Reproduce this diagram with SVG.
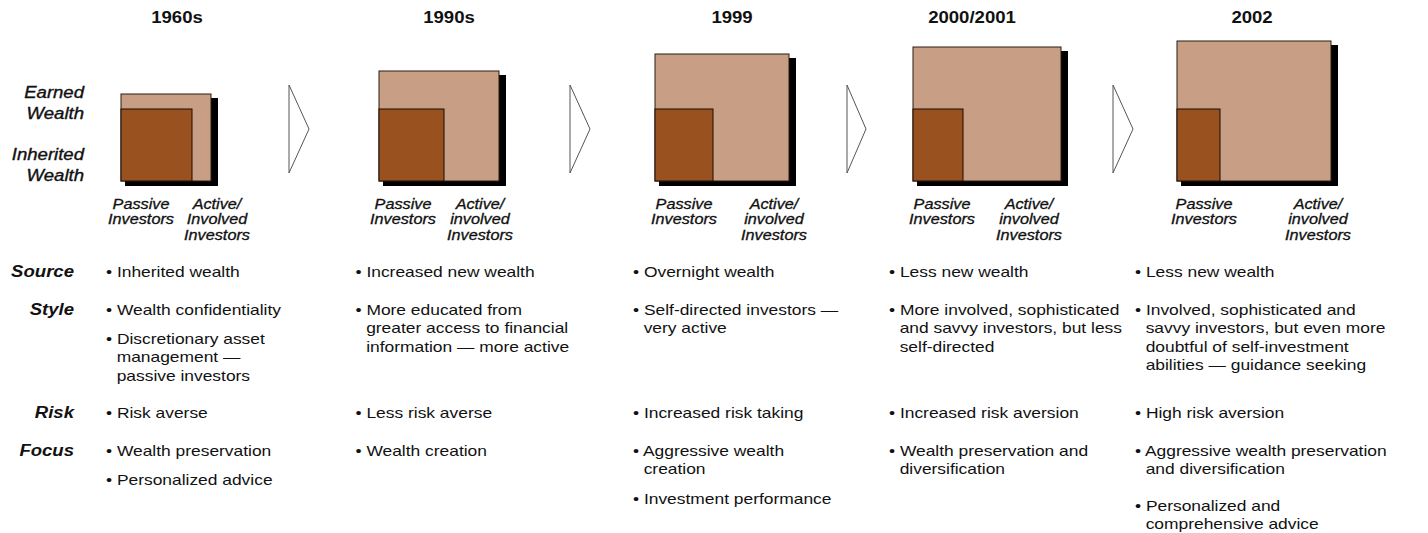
<svg xmlns="http://www.w3.org/2000/svg" width="1428" height="533" viewBox="0 0 1428 533">
<style>
text{font-family:"Liberation Sans",Arial,Helvetica,sans-serif;fill:#111}
.ttl{font-size:16px;font-weight:bold}
.lbl{font-size:16px;font-style:italic;stroke:#111;stroke-width:0.35}
.row{font-size:16px;font-style:italic;font-weight:bold}
.inv{font-size:14px;font-style:italic;stroke:#111;stroke-width:0.3}
.body{font-size:15px}
.shadow{fill:#000}
.earned{fill:#C89E84;stroke:#2a1a10;stroke-width:1}
.inh{fill:#9A5120;stroke:#1a0d05;stroke-width:1}
.chev{fill:#fff;stroke:#555;stroke-width:1}
</style>
<rect width="1428" height="533" fill="#fff"/>
<g id="axis-labels">
<text class="lbl" text-anchor="end" transform="translate(84,97.5) scale(1.16,1)"><tspan x="0" y="0">Earned</tspan><tspan x="0" y="22">Wealth</tspan></text>
<text class="lbl" text-anchor="end" transform="translate(84,159.5) scale(1.16,1)"><tspan x="0" y="0">Inherited</tspan><tspan x="0" y="21.5">Wealth</tspan></text>
<text class="row" text-anchor="end" transform="translate(74,277) scale(1.16,1)">Source</text>
<text class="row" text-anchor="end" transform="translate(74,315) scale(1.16,1)">Style</text>
<text class="row" text-anchor="end" transform="translate(74,418) scale(1.16,1)">Risk</text>
<text class="row" text-anchor="end" transform="translate(74,456) scale(1.16,1)">Focus</text>
</g>
<g id="connectors">
<polygon class="chev" points="289,85 309,129 289,173"/>
<polygon class="chev" points="570,85 590,129 570,173"/>
<polygon class="chev" points="847,85 866,129 847,173"/>
<polygon class="chev" points="1113,85 1133,129 1113,173"/>
</g>
<g id="col-1960s">
<text class="ttl" text-anchor="middle" transform="translate(177,23) scale(1.16,1)">1960s</text>
<rect class="shadow" x="125" y="98" width="93" height="88"/>
<rect class="earned" x="121" y="94" width="90" height="87"/>
<rect class="inh" x="121" y="109" width="71" height="72"/>
<text class="inv" text-anchor="middle" transform="translate(141,208.5) scale(1.16,1)"><tspan x="0" y="0">Passive</tspan><tspan x="0" y="15.7">Investors</tspan></text>
<text class="inv" text-anchor="middle" transform="translate(217,208.5) scale(1.16,1)"><tspan x="0" y="0">Active/</tspan><tspan x="0" y="15.7">Involved</tspan><tspan x="0" y="31.4">Investors</tspan></text>
<text class="body" transform="translate(106,277) scale(1.16,1)">• Inherited wealth</text>
<text class="body" transform="translate(106,315) scale(1.16,1)">• Wealth confidentiality</text>
<text class="body" transform="translate(106,344) scale(1.16,1)"><tspan x="0" y="0">• Discretionary asset</tspan><tspan x="9.2" y="18.3">management —</tspan><tspan x="9.2" y="36.6">passive investors</tspan></text>
<text class="body" transform="translate(106,418) scale(1.16,1)">• Risk averse</text>
<text class="body" transform="translate(106,456) scale(1.16,1)">• Wealth preservation</text>
<text class="body" transform="translate(106,485) scale(1.16,1)">• Personalized advice</text>
</g>
<g id="col-1990s">
<text class="ttl" text-anchor="middle" transform="translate(449,23) scale(1.16,1)">1990s</text>
<rect class="shadow" x="383" y="75" width="123" height="111"/>
<rect class="earned" x="379" y="71" width="120" height="110"/>
<rect class="inh" x="379" y="109" width="65" height="72"/>
<text class="inv" text-anchor="middle" transform="translate(403,208.5) scale(1.16,1)"><tspan x="0" y="0">Passive</tspan><tspan x="0" y="15.7">Investors</tspan></text>
<text class="inv" text-anchor="middle" transform="translate(480,208.5) scale(1.16,1)"><tspan x="0" y="0">Active/</tspan><tspan x="0" y="15.7">involved</tspan><tspan x="0" y="31.4">Investors</tspan></text>
<text class="body" transform="translate(355.5,277) scale(1.16,1)">• Increased new wealth</text>
<text class="body" transform="translate(355.5,315) scale(1.16,1)"><tspan x="0" y="0">• More educated from</tspan><tspan x="9.2" y="18.3">greater access to financial</tspan><tspan x="9.2" y="36.6">information — more active</tspan></text>
<text class="body" transform="translate(355.5,418) scale(1.16,1)">• Less risk averse</text>
<text class="body" transform="translate(355.5,456) scale(1.16,1)">• Wealth creation</text>
</g>
<g id="col-1999">
<text class="ttl" text-anchor="middle" transform="translate(732,23) scale(1.16,1)">1999</text>
<rect class="shadow" x="659" y="58" width="137" height="128"/>
<rect class="earned" x="655" y="54" width="134" height="127"/>
<rect class="inh" x="655" y="109" width="58" height="72"/>
<text class="inv" text-anchor="middle" transform="translate(684,208.5) scale(1.16,1)"><tspan x="0" y="0">Passive</tspan><tspan x="0" y="15.7">Investors</tspan></text>
<text class="inv" text-anchor="middle" transform="translate(774,208.5) scale(1.16,1)"><tspan x="0" y="0">Active/</tspan><tspan x="0" y="15.7">involved</tspan><tspan x="0" y="31.4">Investors</tspan></text>
<text class="body" transform="translate(633,277) scale(1.16,1)">• Overnight wealth</text>
<text class="body" transform="translate(633,315) scale(1.16,1)"><tspan x="0" y="0">• Self-directed investors —</tspan><tspan x="9.2" y="18.3">very active</tspan></text>
<text class="body" transform="translate(633,418) scale(1.16,1)">• Increased risk taking</text>
<text class="body" transform="translate(633,456) scale(1.16,1)"><tspan x="0" y="0">• Aggressive wealth</tspan><tspan x="9.2" y="18.3">creation</tspan></text>
<text class="body" transform="translate(633,504) scale(1.16,1)">• Investment performance</text>
</g>
<g id="col-2000-2001">
<text class="ttl" text-anchor="middle" transform="translate(972,23) scale(1.16,1)">2000/2001</text>
<rect class="shadow" x="917" y="51" width="151" height="135"/>
<rect class="earned" x="913" y="47" width="148" height="134"/>
<rect class="inh" x="913" y="109" width="50" height="72"/>
<text class="inv" text-anchor="middle" transform="translate(942,208.5) scale(1.16,1)"><tspan x="0" y="0">Passive</tspan><tspan x="0" y="15.7">Investors</tspan></text>
<text class="inv" text-anchor="middle" transform="translate(1029,208.5) scale(1.16,1)"><tspan x="0" y="0">Active/</tspan><tspan x="0" y="15.7">involved</tspan><tspan x="0" y="31.4">Investors</tspan></text>
<text class="body" transform="translate(889,277) scale(1.16,1)">• Less new wealth</text>
<text class="body" transform="translate(889,315) scale(1.16,1)"><tspan x="0" y="0">• More involved, sophisticated</tspan><tspan x="9.2" y="18.3">and savvy investors, but less</tspan><tspan x="9.2" y="36.6">self-directed</tspan></text>
<text class="body" transform="translate(889,418) scale(1.16,1)">• Increased risk aversion</text>
<text class="body" transform="translate(889,456) scale(1.16,1)"><tspan x="0" y="0">• Wealth preservation and</tspan><tspan x="9.2" y="18.3">diversification</tspan></text>
</g>
<g id="col-2002">
<text class="ttl" text-anchor="middle" transform="translate(1252,23) scale(1.16,1)">2002</text>
<rect class="shadow" x="1181" y="45" width="157" height="141"/>
<rect class="earned" x="1177" y="41" width="154" height="140"/>
<rect class="inh" x="1177" y="109" width="43" height="72"/>
<text class="inv" text-anchor="middle" transform="translate(1204,208.5) scale(1.16,1)"><tspan x="0" y="0">Passive</tspan><tspan x="0" y="15.7">Investors</tspan></text>
<text class="inv" text-anchor="middle" transform="translate(1318,208.5) scale(1.16,1)"><tspan x="0" y="0">Active/</tspan><tspan x="0" y="15.7">involved</tspan><tspan x="0" y="31.4">Investors</tspan></text>
<text class="body" transform="translate(1135,277) scale(1.16,1)">• Less new wealth</text>
<text class="body" transform="translate(1135,315) scale(1.16,1)"><tspan x="0" y="0">• Involved, sophisticated and</tspan><tspan x="9.2" y="18.3">savvy investors, but even more</tspan><tspan x="9.2" y="36.6">doubtful of self-investment</tspan><tspan x="9.2" y="54.9">abilities — guidance seeking</tspan></text>
<text class="body" transform="translate(1135,418) scale(1.16,1)">• High risk aversion</text>
<text class="body" transform="translate(1135,456) scale(1.16,1)"><tspan x="0" y="0">• Aggressive wealth preservation</tspan><tspan x="9.2" y="18.3">and diversification</tspan></text>
<text class="body" transform="translate(1135,511) scale(1.16,1)"><tspan x="0" y="0">• Personalized and</tspan><tspan x="9.2" y="18.3">comprehensive advice</tspan></text>
</g>
</svg>
